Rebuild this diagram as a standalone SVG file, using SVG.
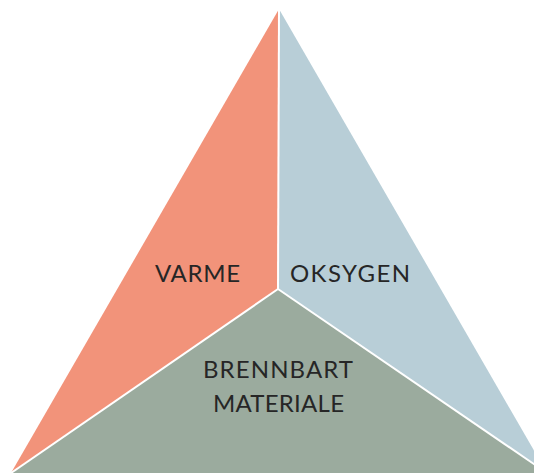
<svg xmlns="http://www.w3.org/2000/svg" width="534" height="473" viewBox="0 0 534 473">
  <style>
    .lbl { font-family: Lato, "Open Sans", sans-serif; font-size: 24px; fill: #262626; text-anchor: middle; }
    .sep { stroke: #ffffff; stroke-width: 2; fill: none; }
  </style>
  <rect width="534" height="473" fill="#ffffff"/>
  <g id="varme">
    <polygon points="279,9 278,289 11,473" fill="#F2937A"/>
    <text class="lbl" x="197.5" y="282" textLength="85" lengthAdjust="spacing">VARME</text>
  </g>
  <g id="oksygen">
    <polygon points="279,9 547,473 278,289" fill="#B8CED7"/>
    <text class="lbl" x="350" y="282" textLength="120" lengthAdjust="spacing">OKSYGEN</text>
  </g>
  <g id="brennbart">
    <polygon points="278,289 11,473 547,473" fill="#9BAB9E"/>
    <text class="lbl" x="278" y="378" textLength="150" lengthAdjust="spacing">BRENNBART</text>
    <text class="lbl" x="278.5" y="412" textLength="131" lengthAdjust="spacing">MATERIALE</text>
  </g>
  <g id="connectors">
    <line class="sep" x1="279" y1="9" x2="278" y2="289"/>
    <line class="sep" x1="278" y1="289" x2="11" y2="473"/>
    <line class="sep" x1="278" y1="289" x2="547" y2="473"/>
  </g>
</svg>
